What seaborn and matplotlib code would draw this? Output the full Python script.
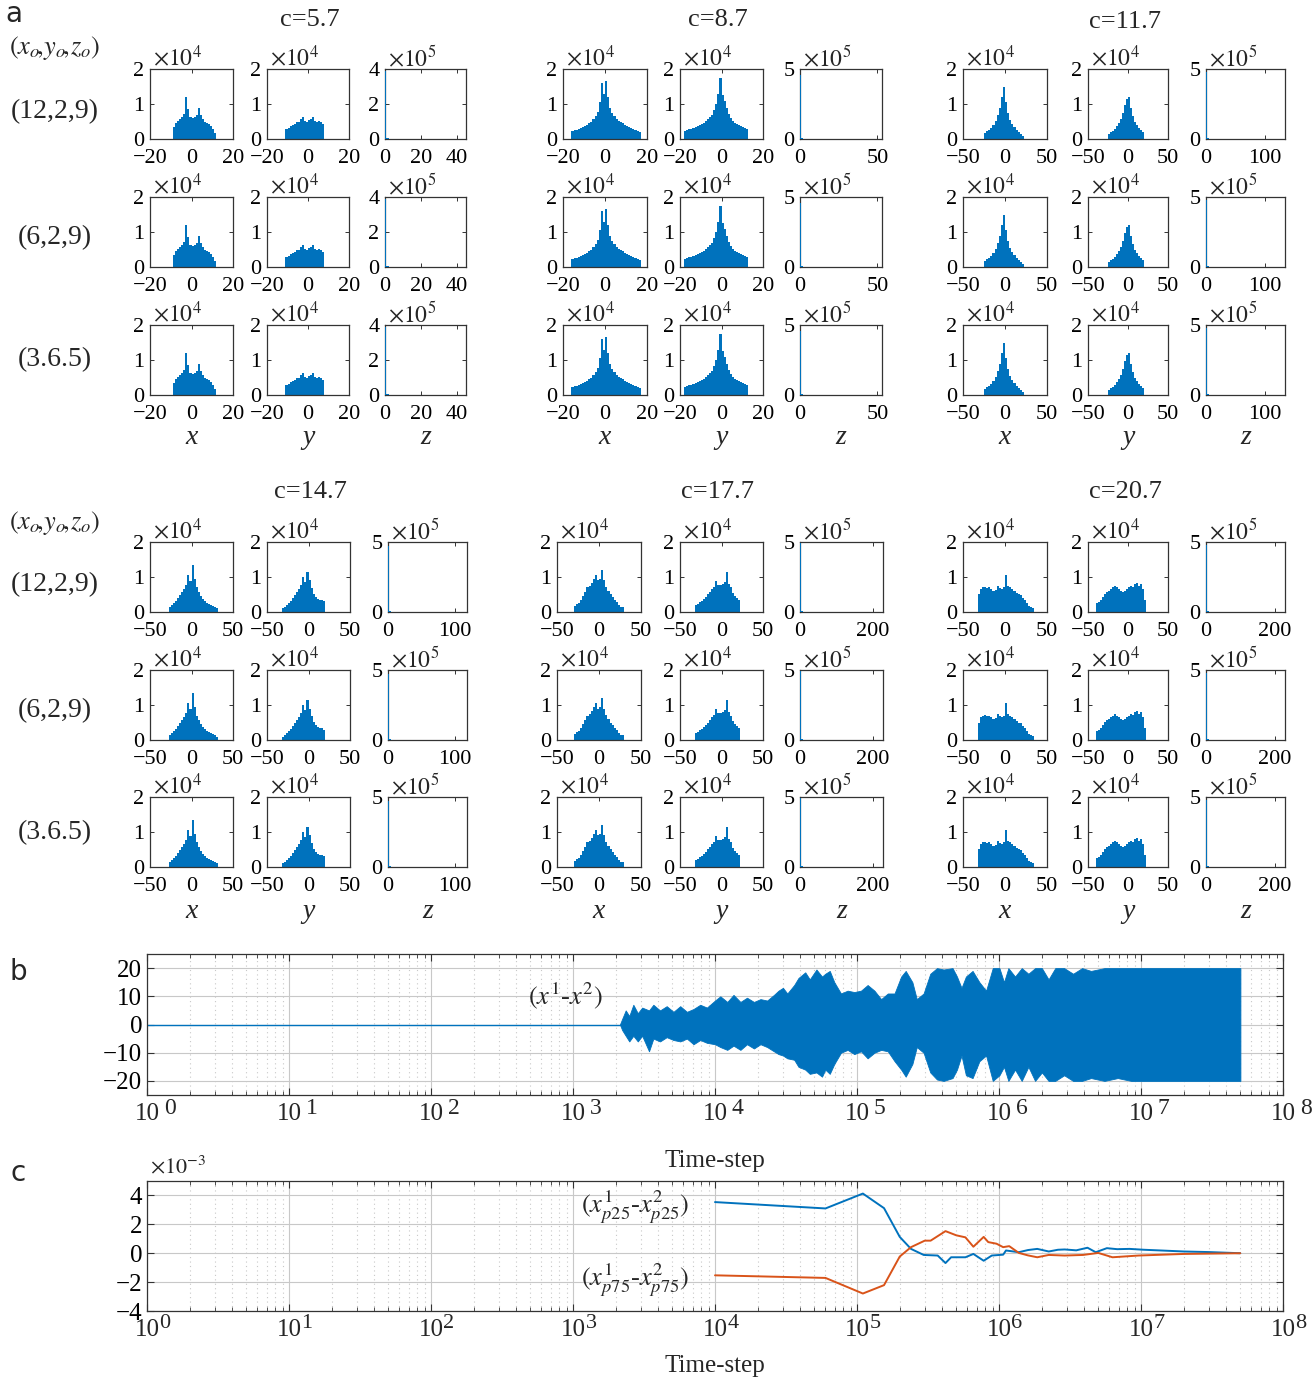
import numpy as np
import pandas as pd
import matplotlib
matplotlib.use("Agg")
import matplotlib.pyplot as plt
import matplotlib.transforms as mtransforms
import seaborn as sns
from matplotlib.ticker import FixedLocator, FuncFormatter, LogLocator, NullFormatter

# ---------------------------------------------------------------- data
c_values = ["5.7", "8.7", "11.7", "14.7", "17.7", "20.7"]
initial_conditions = ["(12,2,9)", "(6,2,9)", "(3.6.5)"]
var_names = ["x", "y", "z"]
decades = [0, 1, 2, 3, 4, 5, 6, 7, 8]

# histogram bin counts (first bin starts at *_start, uniform width *_width)
x_start_c57, x_width_c57 = -9, 1.0
x_counts_c57 = [3500, 4500, 5200, 5800, 6200, 7200, 12000, 8500, 6400, 6000, 6200,
                7000, 8900, 6800, 5600, 5000, 4600, 4200, 3800, 3000, 1800]
y_start_c57, y_width_c57 = -11, 1.0
y_counts_c57 = [2800, 3200, 3600, 4000, 4400, 5000, 5000, 5600, 6400, 5200,
                5000, 5400, 5600, 6300, 5200, 5000, 5200, 5000, 4200]

x_start_c87, x_width_c87 = -16, 1.0
x_counts_c87 = [2300, 2500, 2700, 2900, 3200, 3500, 3800, 4100, 4500, 4900, 5600,
                6500, 7800, 10500, 16000, 13000, 16500, 12000, 9000, 7500, 6500,
                5800, 5200, 4800, 4500, 4100, 3800, 3500, 3200, 2900, 2600, 2300, 2100]
y_start_c87, y_width_c87 = -18, 1.0
y_counts_c87 = [2400, 2600, 2800, 3000, 3200, 3400, 3700, 4000, 4300, 4700, 5100,
                5600, 6200, 7000, 8200, 10000, 13000, 17500, 12500, 11000, 9000,
                7200, 6000, 5200, 4700, 4300, 4000, 3700, 3400, 3200, 3000]

x_start_c117, x_width_c117 = -25, 2.5
x_counts_c117 = [1800, 2200, 2600, 3200, 4000, 5200, 6800, 9000, 12000, 15000,
                 10500, 7500, 5500, 4200, 3300, 2600, 2000, 1500, 1000]
y_start_c117, y_width_c117 = -25, 2.5
y_counts_c117 = [1500, 1900, 2400, 3000, 3700, 4600, 5800, 7500, 9800, 11500,
                 12000, 9000, 6500, 5000, 4000, 3200, 2600, 2000]

x_start_c147, x_width_c147 = -27.5, 2.5
x_counts_c147 = [1500, 2000, 2600, 3200, 4000, 4800, 5600, 6500, 7800, 10500,
                 8800, 13500, 9500, 7000, 5600, 4600, 3800, 3200, 2700, 2300,
                 1900, 1600, 1300, 1000]
y_start_c147, y_width_c147 = -32.5, 2.5
y_counts_c147 = [1000, 1400, 1900, 2500, 3200, 4000, 4800, 5600, 6500, 7800,
                 10000, 8500, 11500, 9000, 6800, 5200, 4200, 3700, 3500, 3300, 3000]

x_start_c177, x_width_c177 = -30, 2.5
x_counts_c177 = [1800, 2200, 2600, 3500, 4500, 5800, 7000, 7400, 8200, 9500,
                 10700, 9000, 9500, 12000, 9000, 7200, 6000, 5000, 4200, 3500,
                 2800, 2000, 1500, 1300]
y_start_c177, y_width_c177 = -32.5, 2.5
y_counts_c177 = [2000, 2300, 2800, 3200, 3800, 4200, 5000, 5600, 6500, 7200,
                 8800, 7800, 7600, 8000, 8500, 11500, 8000, 7000, 5500, 4500,
                 4000, 3500]

x_start_c207, x_width_c207 = -32.5, 2.5
x_counts_c207 = [5000, 6500, 7000, 7200, 6800, 7000, 6500, 6000, 6200, 7400,
                 6800, 6600, 7000, 10500, 7500, 7000, 6500, 6000, 5500, 5000,
                 4800, 4000, 3500, 2500, 1800, 1500, 1200]
y_start_c207, y_width_c207 = -40, 2.5
y_counts_c207 = [2500, 2800, 3500, 4200, 5200, 5800, 6000, 6500, 7000, 7500,
                 7000, 6500, 6000, 5800, 6000, 6500, 7000, 7500, 7200, 8000,
                 8200, 7500, 8000, 6500, 3500]

z_tail = [6000, 4000, 3200, 2600, 2200, 1900, 1700, 1500, 1400, 1300, 1200,
          1100, 1000, 900, 850, 800, 700, 600, 500, 450, 400, 350, 300, 250]
z_width_c57, z_counts_c57 = 0.6, [390000] + z_tail
z_width_c87, z_counts_c87 = 0.75, [460000] + z_tail
z_width_c117, z_counts_c117 = 1.9, [480000] + z_tail
z_width_c147, z_counts_c147 = 1.7, [470000] + z_tail
z_width_c177, z_counts_c177 = 3.2, [490000] + z_tail
z_width_c207, z_counts_c207 = 3.3, [480000] + z_tail

# panel b: envelope of x1 - x2 over time
b_flat_t = [1, 2140]
b_flat_v = [0, 0]
b_env_t = [2140, 2220, 2350, 2490, 2660, 2860, 3070, 3430, 3680, 4100, 4570,
           5100, 5690, 6340, 7060, 7870, 8770, 10000, 10900, 12200, 13500, 15100,
           16800, 18800, 20900, 23300, 26000, 28000, 30100, 32300, 36100, 38700,
           43200, 46500, 51800, 56700, 59800, 64300, 69200, 77100, 85900, 95700,
           106700, 118800, 132700, 147900, 164800, 183700, 204600, 220300, 245500,
           263600, 294400, 328100, 365700, 407400, 471000, 505800, 544500, 584800,
           651600, 727800, 811000, 903500, 1006900, 1083900, 1164100, 1297200,
           1445400, 1610600, 1794700, 2004500, 2233600, 2489000, 2877000, 3326000,
           3846000, 4446000, 5532000, 6855000, 8531000, 13180000, 18920000,
           26920000, 38900000, 50120000]
b_env_hi = [0, 2, 5, 3, 7, 4, 6, 5, 7, 5, 6.5, 4.5, 6.5, 4.5, 5.5, 7, 6, 8.5, 10,
            8, 10.5, 8, 9.5, 8, 9, 8.5, 10.5, 12, 13, 11, 14, 16.5, 18.5, 16, 19.5,
            17, 18, 19, 15, 11, 12, 11.5, 12, 14, 12, 9, 11, 11, 17, 19, 15, 9, 11,
            18, 20, 19.5, 20, 17, 13, 17, 19, 15, 12, 20, 20, 15, 20, 17, 20, 18,
            20, 20, 16, 20, 20, 18, 20, 19, 20, 20, 20, 20, 20, 20, 20, 20]
b_env_lo = [0, -2, -4, -6, -4, -6, -4, -9.5, -5, -6, -4.5, -5.5, -6, -5, -7, -5.5,
            -6.5, -7, -8, -9, -7.5, -9, -7, -8.5, -7, -8, -9.5, -10.5, -11, -12,
            -12.5, -15, -16, -17.5, -17, -18.5, -16, -17.5, -14, -10, -9, -10.5,
            -9.5, -12, -10, -9, -9.5, -13, -16, -18.5, -14, -8, -10, -17, -19.5,
            -20, -19, -16, -11, -18, -19, -13, -11, -20, -18, -15, -20, -16, -20,
            -15, -20, -17, -20, -20, -18, -20, -20, -19, -20, -19, -20, -20, -20,
            -20, -20, -20]

# panel c: percentile differences (units of 1e-3)
p25_t = [1e4, 6.0e4, 1.1e5, 1.55e5, 2.0e5, 2.4e5, 2.95e5, 3.7e5, 4.2e5, 4.6e5,
         5.8e5, 6.6e5, 7.8e5, 8.9e5, 1.07e6, 1.12e6, 1.38e6, 1.6e6, 1.86e6,
         2.24e6, 2.6e6, 2.9e6, 3.5e6, 4.2e6, 4.8e6, 5.75e6, 6.8e6, 8.3e6,
         1.05e7, 1.38e7, 2.0e7, 3.0e7, 5.0e7]
p25_v = [3.54, 3.10, 4.13, 3.12, 1.13, 0.30, -0.12, -0.16, -0.68, -0.28, -0.28,
         -0.05, -0.52, -0.16, -0.10, 0.19, 0.07, 0.22, 0.30, 0.12, 0.24, 0.26,
         0.20, 0.38, 0.07, 0.35, 0.28, 0.30, 0.24, 0.19, 0.12, 0.08, 0.0]
p75_t = [1e4, 6.0e4, 1.1e5, 1.55e5, 2.0e5, 2.4e5, 3.0e5, 3.3e5, 4.2e5, 5.0e5,
         5.8e5, 6.6e5, 7.8e5, 8.4e5, 9.6e5, 1.07e6, 1.18e6, 1.38e6, 1.6e6,
         1.86e6, 2.24e6, 2.9e6, 3.9e6, 5.0e6, 6.3e6, 9.6e6, 2.0e7, 5.0e7]
p75_v = [-1.53, -1.71, -2.79, -2.21, -0.23, 0.42, 0.87, 0.87, 1.53, 1.24, 1.10,
         0.45, 1.13, 0.77, 0.66, 0.42, 0.49, 0.02, -0.15, -0.28, -0.12, -0.16,
         -0.12, 0.02, -0.28, -0.16, -0.05, 0.0]

# ---------------------------------------------------------------- style
sns.set_style("ticks")
plt.rcParams["font.family"] = ["Liberation Serif", "DejaVu Serif"]
plt.rcParams["mathtext.fontset"] = "stix"
BLUE = "#0072BD"
ORANGE = "#D95319"
EDGE = "#333333"
W, H = 1314, 1384

fig = plt.figure(figsize=(W / 100, H / 100), dpi=100)


def rect(l, t, r, b):
    return [l / W, 1 - b / H, (r - l) / W, (b - t) / H]


def ftext(x, y, s, **kw):
    fig.text(x / W, 1 - y / H, s, ha=kw.pop("ha", "center"), va=kw.pop("va", "center"), **kw)


def style_box(ax):
    for sp in ax.spines.values():
        sp.set_visible(True)
        sp.set_color(EDGE)
        sp.set_linewidth(0.9)
    ax.tick_params(direction="in", top=True, right=True, length=3, width=0.7,
                   colors=EDGE, labelcolor="black", labelsize=16)
    ax.tick_params(axis="x", pad=7)
    ax.tick_params(axis="y", pad=4)
    ax.set_xlabel("")
    ax.set_ylabel("")


def draw_hist(ax, start, width, counts, xlim, xticks, ymax, yticks, scale, expo, z=1):
    n = len(counts)
    edges = [float(start + width * i) for i in range(n + 1)]
    df = pd.DataFrame({"value": [e + width / 2 for e in edges[:-1]],
                       "count": [float(c) for c in counts]})
    sns.histplot(data=df, x="value", weights="count", bins=edges, ax=ax, color=BLUE,
                 element="step", fill=True, alpha=1, linewidth=0, zorder=z)
    ax.set_xlim(*xlim)
    ax.set_ylim(0, ymax)
    ax.xaxis.set_major_locator(FixedLocator(xticks))
    ax.yaxis.set_major_locator(FixedLocator(yticks))
    ax.yaxis.set_major_formatter(FuncFormatter(lambda v, p: f"{v / scale:g}"))
    style_box(ax)
    ax.text(0.04, 0.98, r"$\times10^{%d}$" % expo, transform=ax.transAxes,
            ha="left", va="bottom", fontsize=17)


groups = [
    ("5.7", (x_start_c57, x_width_c57, x_counts_c57), (y_start_c57, y_width_c57, y_counts_c57),
     (z_width_c57, z_counts_c57), (-20, 20), [-20, 0, 20], (0, 45), [0, 20, 40], 4e5, [0, 2e5, 4e5]),
    ("8.7", (x_start_c87, x_width_c87, x_counts_c87), (y_start_c87, y_width_c87, y_counts_c87),
     (z_width_c87, z_counts_c87), (-20, 20), [-20, 0, 20], (0, 53), [0, 50], 5e5, [0, 5e5]),
    ("11.7", (x_start_c117, x_width_c117, x_counts_c117), (y_start_c117, y_width_c117, y_counts_c117),
     (z_width_c117, z_counts_c117), (-50, 50), [-50, 0, 50], (0, 135), [0, 100], 5e5, [0, 5e5]),
    ("14.7", (x_start_c147, x_width_c147, x_counts_c147), (y_start_c147, y_width_c147, y_counts_c147),
     (z_width_c147, z_counts_c147), (-50, 50), [-50, 0, 50], (0, 118), [0, 100], 5e5, [0, 5e5]),
    ("17.7", (x_start_c177, x_width_c177, x_counts_c177), (y_start_c177, y_width_c177, y_counts_c177),
     (z_width_c177, z_counts_c177), (-50, 50), [-50, 0, 50], (0, 228), [0, 200], 5e5, [0, 5e5]),
    ("20.7", (x_start_c207, x_width_c207, x_counts_c207), (y_start_c207, y_width_c207, y_counts_c207),
     (z_width_c207, z_counts_c207), (-50, 50), [-50, 0, 50], (0, 230), [0, 200], 5e5, [0, 5e5]),
]

# layout in pixels
rows_top = [(69, 139), (197, 267), (325, 395)]
rows_bot = [(542, 612), (670, 740), (797, 867)]
cols = {
    "5.7": [(150, 233), (267, 349), (385, 466)],
    "8.7": [(563, 647), (680, 763), (800, 882)],
    "11.7": [(963, 1047), (1088, 1168), (1206, 1285)],
    "14.7": [(150, 233), (267, 350), (388, 467)],
    "17.7": [(557, 641), (680, 763), (800, 883)],
    "20.7": [(963, 1047), (1088, 1168), (1206, 1285)],
}
title_pos = {"5.7": (310, 20), "8.7": (718, 20), "11.7": (1125, 22),
             "14.7": (310, 492), "17.7": (718, 492), "20.7": (1125, 492)}

for gi, (cv, xs, ys, zs, xlim, xt, zlim, zt, zmax, zyt) in enumerate(groups):
    rows = rows_top if gi < 3 else rows_bot
    for (t, b) in rows:
        c3 = cols[cv]
        ax = fig.add_axes(rect(c3[0][0], t, c3[0][1], b))
        draw_hist(ax, xs[0], xs[1], xs[2], xlim, xt, 2e4, [0, 1e4, 2e4], 1e4, 4)
        ax = fig.add_axes(rect(c3[1][0], t, c3[1][1], b))
        draw_hist(ax, ys[0], ys[1], ys[2], xlim, xt, 2e4, [0, 1e4, 2e4], 1e4, 4)
        ax = fig.add_axes(rect(c3[2][0], t, c3[2][1], b))
        # the z spike sits on the left frame, so draw it above the spines
        draw_hist(ax, 0, zs[0], zs[1], zlim, zt, zmax, zyt, 1e5, 5, z=3)
    tx, ty = title_pos[cv]
    ftext(tx, ty, "c=" + cv, fontsize=19)
    ylab = 437 if gi < 3 else 912
    for (l, r), v in zip(cols[cv], var_names):
        ftext((l + r) / 2, ylab, v, fontsize=20, style="italic")

for ys_ in ((48, 112, 238, 360), (523, 585, 711, 833)):
    ftext(55, ys_[0], r"$(x_o\!,\!y_o\!,\!z_o)$", fontsize=19)
    for lab, yy in zip(initial_conditions, ys_[1:]):
        ftext(55, yy, lab, fontsize=20)

# panel letters
for letter, (px, py) in zip("abc", [(14, 14), (18, 972), (18, 1173)]):
    ftext(px, py, letter, fontsize=20, family="DejaVu Sans")


def log_axis(ax, base_size, exp_size, exp_gap):
    ax.set_xscale("log")
    ax.set_xlim(1, 1e8)
    ax.xaxis.set_major_locator(FixedLocator([10.0 ** k for k in decades]))
    ax.xaxis.set_minor_locator(LogLocator(base=10, subs=np.arange(2, 10), numticks=200))
    ax.xaxis.set_minor_formatter(NullFormatter())
    ax.xaxis.set_major_formatter(NullFormatter())
    for sp in ax.spines.values():
        sp.set_visible(True)
        sp.set_color(EDGE)
        sp.set_linewidth(0.9)
    ax.tick_params(which="both", direction="in", top=True, right=True, colors=EDGE,
                   labelcolor="black", labelsize=18)
    ax.tick_params(which="major", length=5)
    ax.tick_params(which="minor", length=3)
    ax.grid(which="major", color="#c8c8c8", lw=0.8)
    ax.grid(which="minor", axis="x", color="#c8c8c8", ls=(0, (1, 3)), lw=0.8)
    ax.set_axisbelow(True)
    ax.set_xlabel("")
    ax.set_ylabel("")
    # decade labels: "10" with a raised exponent
    trans = mtransforms.blended_transform_factory(ax.transData, ax.transAxes)
    for k in decades:
        t1 = mtransforms.offset_copy(trans, fig=fig, x=0, y=-6, units="points")
        ax.text(10.0 ** k, 0, "10", transform=t1, ha="center", va="top",
                fontsize=base_size)
        t2 = mtransforms.offset_copy(trans, fig=fig, x=exp_gap, y=-2, units="points")
        ax.text(10.0 ** k, 0, str(k), transform=t2, ha="left", va="top",
                fontsize=exp_size)


# panel b
axb = fig.add_axes(rect(147, 954, 1283, 1095))
sns.lineplot(x=b_flat_t, y=b_flat_v, ax=axb, color=BLUE, lw=1)
axb.fill_between(b_env_t, b_env_lo, b_env_hi, color=BLUE, lw=0.6)
log_axis(axb, 18, 17, 12)
axb.set_ylim(-25, 25)
axb.set_yticks([-20, -10, 0, 10, 20])
ftext(565, 996, r"$(x^{1}$-$x^{2})$", fontsize=19)
ftext(715, 1161, "Time-step", fontsize=18)

# panel c
axc = fig.add_axes(rect(147, 1181, 1283, 1311))
sns.lineplot(x=p25_t, y=p25_v, ax=axc, color=BLUE, lw=1.4)
sns.lineplot(x=p75_t, y=p75_v, ax=axc, color=ORANGE, lw=1.4)
log_axis(axc, 18, 16, 9)
axc.set_ylim(-4, 5)
axc.set_yticks([-4, -2, 0, 2, 4])
ftext(150, 1167, r"$\times10^{-3}$", fontsize=16, ha="left")
ftext(635, 1207, r"$(x^{1}_{p25}$-$x^{2}_{p25})$", fontsize=19)
ftext(635, 1280, r"$(x^{1}_{p75}$-$x^{2}_{p75})$", fontsize=19)
ftext(715, 1366, "Time-step", fontsize=18)

fig.savefig("out.png", dpi=100)
